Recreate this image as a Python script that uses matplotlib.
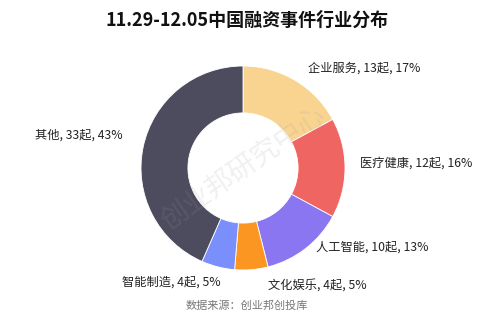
import matplotlib
matplotlib.use("Agg")
import matplotlib.pyplot as plt

plt.rcParams["font.family"] = ["Noto Sans CJK SC", "DejaVu Sans"]

# data
sectors = ["企业服务", "医疗健康", "人工智能", "文化娱乐", "智能制造", "其他"]
counts = [13, 12, 10, 4, 4, 33]
shares = [17, 16, 13, 5, 5, 43]

colors = ["#F9D490", "#EF6561", "#8B76F2", "#FB9622", "#7B8FFC", "#4C4C5E"]
# label anchors (left edge, vertical centre) in pixels from top-left
label_pos = [(308, 68), (360, 163), (316, 247), (268, 286), (122, 282), (35, 135)]

W, H = 494, 323
fig = plt.figure(figsize=(W / 100, H / 100), dpi=100)
ax = fig.add_axes([0, 0, 1, 1])

cx, cy, r = 243, H - 168, 102
ax.pie(counts, colors=colors, startangle=90, counterclock=False,
       center=(cx, cy), radius=r, frame=True,
       wedgeprops=dict(width=r * 0.46, edgecolor="white", linewidth=0.6))
ax.set_xlim(0, W)
ax.set_ylim(0, H)
ax.set_aspect("equal")
ax.axis("off")

for name, n, p, (x, y) in zip(sectors, counts, shares, label_pos):
    ax.text(x, H - y, f"{name}, {n}起, {p}%", fontsize=8.8, color="#222222",
            ha="left", va="center")

# watermark
ax.text(cx, cy, "创业邦研究中心", fontsize=20, color="#999999", alpha=0.15,
        rotation=35, ha="center", va="center")

fig.text(0.5, 1 - 20 / H, "11.29-12.05中国融资事件行业分布", fontsize=13,
         fontweight="bold", ha="center", va="center", color="#111111")
fig.text(0.5, 1 - 306 / H, "数据来源：创业邦创投库", fontsize=8, color="#777777",
         ha="center", va="center")

fig.savefig("out.png", dpi=100)
